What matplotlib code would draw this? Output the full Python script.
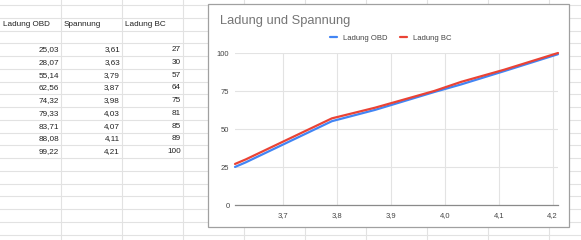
import matplotlib
matplotlib.use('Agg')
import matplotlib.pyplot as plt
from matplotlib.patches import Rectangle
from matplotlib.ticker import FuncFormatter

# spreadsheet data
headers = ['Ladung OBD', 'Spannung', 'Ladung BC']
ladung_obd = [25.03, 28.07, 55.14, 62.56, 74.32, 79.33, 83.71, 88.08, 99.22]
spannung = [3.61, 3.63, 3.79, 3.87, 3.98, 4.03, 4.07, 4.11, 4.21]
ladung_bc = [27, 30, 57, 64, 75, 81, 85, 89, 100]

chart_title = 'Ladung und Spannung'
x_ticks = [3.7, 3.8, 3.9, 4.0, 4.1, 4.2]
y_ticks = [0, 25, 50, 75, 100]

BLUE = '#4285f4'
RED = '#ea4335'
W, H = 581, 240

plt.rcParams['font.family'] = ['Liberation Sans', 'DejaVu Sans']


def de(v, nd):
    return f'{v:.{nd}f}'.replace('.', ',')


fig = plt.figure(figsize=(W / 100, H / 100), dpi=100)

# background sheet grid (pixel coordinates)
bg = fig.add_axes([0, 0, 1, 1])
bg.set_xlim(0, W)
bg.set_ylim(H, 0)
bg.axis('off')
col_w, row_h, row0 = 61, 12.75, 5.0
for i in range(1, 10):
    bg.axvline(i * col_w, color='#e2e2e2', lw=0.8)
for j in range(19):
    bg.axhline(row0 + j * row_h, color='#e2e2e2', lw=0.8)

txt = dict(fontsize=5.9, color='#222222', va='center')
hy = row0 + 1.5 * row_h
bg.text(3, hy, headers[0], ha='left', **txt)
bg.text(col_w + 3, hy, headers[1], ha='left', **txt)
bg.text(2 * col_w + 3, hy, headers[2], ha='left', **txt)
for k, (a, s, b) in enumerate(zip(ladung_obd, spannung, ladung_bc)):
    y = row0 + (3.5 + k) * row_h
    bg.text(col_w - 2, y, de(a, 2), ha='right', **txt)
    bg.text(2 * col_w - 2, y, de(s, 2), ha='right', **txt)
    bg.text(3 * col_w - 2, y, str(b), ha='right', **txt)

# chart box
bg.add_patch(Rectangle((208, 4), 361, 223, facecolor='white',
                       edgecolor='#a0a0a0', lw=0.9, zorder=5))
bg.text(220, 21, chart_title, fontsize=9.3, color='#757575',
        ha='left', va='center', zorder=6)

# chart axes
left, right, top, bottom = 235, 558, 53, 205
ax = fig.add_axes([left / W, 1 - bottom / H, (right - left) / W, (bottom - top) / H])
ax.set_zorder(10)
ax.patch.set_alpha(0)
ax.plot(spannung, ladung_obd, color=BLUE, lw=1.6, label='Ladung OBD',
        clip_on=False, solid_capstyle='round')
ax.plot(spannung, ladung_bc, color=RED, lw=1.6, label='Ladung BC',
        clip_on=False, solid_capstyle='round')
ax.set_xlim(spannung[0], spannung[-1])
ax.set_ylim(0, 100)
ax.set_xticks(x_ticks)
ax.set_yticks(y_ticks)
ax.xaxis.set_major_formatter(FuncFormatter(lambda v, p: de(v, 1)))
ax.yaxis.set_major_formatter(FuncFormatter(lambda v, p: f'{v:.0f}'))
ax.grid(True, color='#e3e3e3', lw=0.8)
ax.set_axisbelow(True)
for side in ['top', 'right', 'left']:
    ax.spines[side].set_visible(False)
ax.spines['bottom'].set_color('#8a8a8a')
ax.spines['bottom'].set_linewidth(0.9)
ax.tick_params(length=0, labelsize=5.5, labelcolor='#444444', pad=4)
ax.tick_params(axis='x', pad=5)

fig.legend(loc='center', bbox_to_anchor=(391 / W, 1 - 38 / H), ncol=2,
           frameon=False, fontsize=5.5, handlelength=0.9, handletextpad=0.8,
           columnspacing=1.6, labelcolor='#444444')

fig.savefig('out.png', dpi=100)
